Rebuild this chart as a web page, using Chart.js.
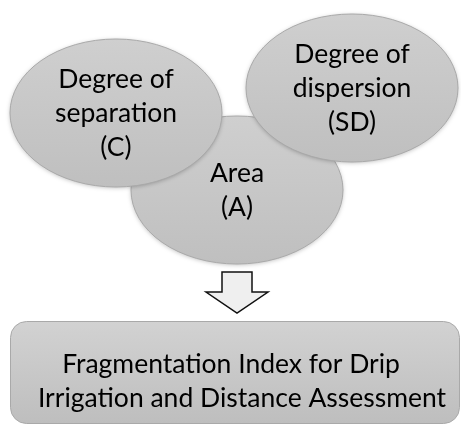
<!DOCTYPE html>
<html>
<head>
<meta charset="utf-8">
<script src="https://cdn.jsdelivr.net/npm/chart.js@4.4.1/dist/chart.umd.min.js"></script>
<style>
  html, body { margin: 0; padding: 0; background: #fff; }
  canvas { display: block; }
</style>
</head>
<body>
<canvas id="diagrama" width="461" height="431"></canvas>
<script>
// nodos del diagrama (orden de dibujo: Area abajo)
var nodos = ["Area\n(A)", "Degree of\nseparation\n(C)", "Degree of\ndispersion\n(SD)"];
var nodoX = [237, 116, 352];
var nodoY = [190, 113, 88];
var resultado = ["Fragmentation Index for Drip", "Irrigation and Distance Assessment"];
var resultadoX = [231, 242];
var resultadoY = [364, 398];

// layout
var RX = 106, RY = 74;
var FUENTE = "26.5px Lato";

function gradienteGris(ctx, y0, y1, c0, c1){
  var g = ctx.createLinearGradient(0, y0, 0, y1);
  g.addColorStop(0, c0);
  g.addColorStop(1, c1);
  return g;
}

var pluginDiagrama = {
  id: 'diagrama',
  afterDatasetsDraw: function(chart){
    var ctx = chart.ctx;
    var sx = chart.scales.x, sy = chart.scales.y;
    var escX = Math.abs(sx.getPixelForValue(1) - sx.getPixelForValue(0));
    var escY = Math.abs(sy.getPixelForValue(1) - sy.getPixelForValue(0));

    // elipses
    chart.data.datasets[0].data.forEach(function(p, i){
      var cx = sx.getPixelForValue(p.x), cy = sy.getPixelForValue(p.y);
      var rx = RX * escX, ry = RY * escY;
      ctx.save();
      ctx.shadowColor = 'rgba(0,0,0,0.25)';
      ctx.shadowBlur = 4;
      ctx.shadowOffsetY = 1;
      ctx.beginPath();
      ctx.ellipse(cx, cy, rx, ry, 0, 0, Math.PI * 2);
      ctx.fillStyle = gradienteGris(ctx, cy - ry, cy + ry, '#cfcfcf', '#bfbfbf');
      ctx.fill();
      ctx.restore();
      ctx.save();
      ctx.beginPath();
      ctx.ellipse(cx, cy, rx, ry, 0, 0, Math.PI * 2);
      ctx.strokeStyle = '#a9a9a9';
      ctx.lineWidth = 1;
      ctx.stroke();
      // texto
      var lineas = nodos[i].split("\n");
      ctx.font = FUENTE;
      ctx.fillStyle = '#000';
      ctx.textAlign = 'center';
      ctx.textBaseline = 'middle';
      var alto = 34;
      lineas.forEach(function(t, k){
        ctx.fillText(t, cx, cy - (lineas.length - 1) * alto / 2 + k * alto);
      });
      ctx.restore();
    });

    // flecha
    var ax = sx.getPixelForValue(237);
    ctx.save();
    ctx.beginPath();
    ctx.moveTo(ax - 15, sy.getPixelForValue(272));
    ctx.lineTo(ax + 15, sy.getPixelForValue(272));
    ctx.lineTo(ax + 15, sy.getPixelForValue(292));
    ctx.lineTo(ax + 31, sy.getPixelForValue(292));
    ctx.lineTo(ax, sy.getPixelForValue(313));
    ctx.lineTo(ax - 31, sy.getPixelForValue(292));
    ctx.lineTo(ax - 15, sy.getPixelForValue(292));
    ctx.closePath();
    ctx.fillStyle = '#efefef';
    ctx.fill();
    ctx.strokeStyle = '#111';
    ctx.lineWidth = 1.5;
    ctx.stroke();
    ctx.restore();

    // caja resultado
    var bx0 = sx.getPixelForValue(10), bx1 = sx.getPixelForValue(460);
    var by0 = sy.getPixelForValue(321), by1 = sy.getPixelForValue(423);
    ctx.save();
    ctx.beginPath();
    ctx.roundRect(bx0 + 0.5, by0 + 0.5, bx1 - bx0 - 1, by1 - by0, 16);
    ctx.fillStyle = gradienteGris(ctx, by0, by1, '#d2d2d2', '#bebebe');
    ctx.fill();
    ctx.strokeStyle = '#a9a9a9';
    ctx.lineWidth = 1;
    ctx.stroke();
    ctx.font = FUENTE;
    ctx.fillStyle = '#000';
    ctx.textAlign = 'center';
    ctx.textBaseline = 'middle';
    chart.data.datasets[1].data.forEach(function(p, k){
      ctx.fillText(resultado[k], sx.getPixelForValue(p.x), sy.getPixelForValue(p.y));
    });
    ctx.restore();
  }
};

new Chart(document.getElementById('diagrama'), {
  type: 'scatter',
  data: {
    datasets: [{
      label: 'nodos',
      data: nodoX.map(function(x, i){ return { x: x, y: nodoY[i] }; }),
      pointRadius: 0
    }, {
      label: 'resultado',
      data: resultadoX.map(function(x, i){ return { x: x, y: resultadoY[i] }; }),
      pointRadius: 0
    }]
  },
  options: {
    responsive: false,
    animation: false,
    layout: { padding: 0 },
    plugins: { legend: { display: false }, tooltip: { enabled: false } },
    scales: {
      x: { type: 'linear', min: 0, max: 461, display: false },
      y: { type: 'linear', min: 0, max: 431, reverse: true, display: false }
    }
  },
  plugins: [pluginDiagrama]
});
</script>
</body>
</html>
